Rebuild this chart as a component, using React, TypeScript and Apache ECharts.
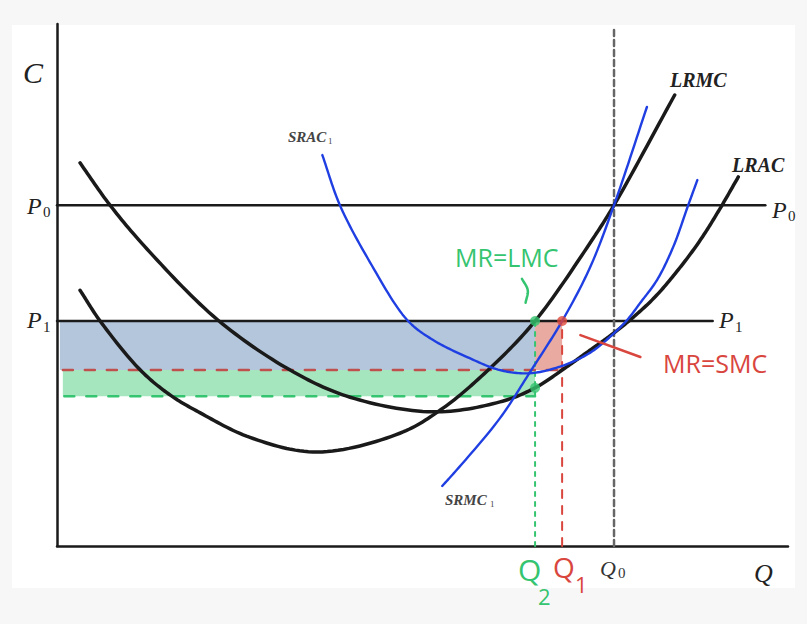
import React, { useEffect, useRef } from "react";
import * as echarts from "echarts";

// Economic diagram values (quantity 0..100, cost 0..100)
const lrac: [number, number][] = [
  [3.15, 73.4], [7.25, 65.3], [12.7, 56.3], [22.0, 43.3], [31.9, 33.7], [40.1, 28.5],
  [51.4, 25.7], [60.6, 27.6], [65.4, 30.3], [69.5, 34.1], [72.9, 37.5], [75.6, 40.2],
  [78.4, 43.3], [81.8, 47.7], [85.2, 53.3], [88.0, 58.6], [90.6, 64.4], [93.2, 70.7],
];
const lrmc: [number, number][] = [
  [3.15, 49.0], [5.9, 43.1], [11.4, 33.7], [15.5, 28.9], [19.6, 25.5], [26.4, 20.8],
  [35.6, 18.0], [46.9, 21.6], [52.8, 26.4], [59.2, 34.0], [65.4, 43.1], [72.9, 58.0],
  [76.2, 65.3], [84.5, 86.4],
];
const srac1: [number, number][] = [
  [36.3, 74.9], [38.7, 65.3], [42.8, 54.4], [47.9, 43.3], [51.4, 39.5], [56.1, 36.2],
  [60.6, 33.7], [64.7, 33.1], [69.1, 34.5], [72.9, 37.0], [75.6, 40.0], [78.0, 43.3],
  [79.8, 46.6], [82.1, 51.0], [84.3, 57.3], [86.3, 65.1], [87.6, 70.1],
];
const srmc1: [number, number][] = [
  [52.7, 11.5], [54.7, 14.6], [60.6, 24.5], [64.7, 33.3], [69.1, 43.1], [72.9, 53.3],
  [76.2, 65.3], [80.7, 84.1],
];
const P0 = 65.3;
const P1 = 43.1;
const Q0 = 76.2;
const Q1 = 69.1;
const Q2 = 65.4;
const SRAC_MIN = 33.7;
const LRAC_LEVEL = 28.7;
const Q2_DOT = 30.3;
const P0_END = 96.9;
const P1_END = 89.7;
const AXIS_TOP = 99.6;
const redPointer: [number, number][] = [[71.6, 40.4], [79.8, 36.2]];
const greenPointer: [number, number][] = [[63.6, 51.2], [64.4, 49.0], [64.1, 46.6]];

const BLACK = "#1a1a1a";
const BLUE = "#1f3fe2";
const GREEN = "#35c46f";
const RED = "#d9463e";

type Pt = number[];

// centripetal Catmull-Rom through pixel points (drawing only)
function spline(pts: Pt[], steps = 16): Pt[] {
  if (pts.length < 3) return pts;
  const out: Pt[] = [];
  const n = pts.length;
  const get = (i: number): Pt => {
    if (i < 0) return [2 * pts[0][0] - pts[1][0], 2 * pts[0][1] - pts[1][1]];
    if (i >= n) return [2 * pts[n - 1][0] - pts[n - 2][0], 2 * pts[n - 1][1] - pts[n - 2][1]];
    return pts[i];
  };
  const dist = (a: Pt, b: Pt) => Math.max(Math.pow(Math.hypot(b[0] - a[0], b[1] - a[1]), 0.5), 1e-4);
  const lerp = (a: Pt, b: Pt, ta: number, tb: number, t: number): Pt => {
    const u = (t - ta) / (tb - ta);
    return [a[0] + (b[0] - a[0]) * u, a[1] + (b[1] - a[1]) * u];
  };
  for (let i = 0; i < n - 1; i++) {
    const p0 = get(i - 1), p1 = get(i), p2 = get(i + 1), p3 = get(i + 2);
    const t0 = 0;
    const t1 = t0 + dist(p0, p1);
    const t2 = t1 + dist(p1, p2);
    const t3 = t2 + dist(p2, p3);
    for (let s = 0; s < steps; s++) {
      const t = t1 + ((t2 - t1) * s) / steps;
      const a1 = lerp(p0, p1, t0, t1, t);
      const a2 = lerp(p1, p2, t1, t2, t);
      const a3 = lerp(p2, p3, t2, t3, t);
      const b1 = lerp(a1, a2, t0, t2, t);
      const b2 = lerp(a2, a3, t1, t3, t);
      out.push(lerp(b1, b2, t1, t2, t));
    }
  }
  out.push(pts[n - 1]);
  return out;
}

function curve(data: [number, number][], color: string, width: number) {
  return {
    type: "custom",
    data,
    silent: true,
    z: 3,
    renderItem: (params: any, api: any) => {
      if (params.dataIndex !== 0) return null;
      const px = data.map((p) => api.coord(p));
      return {
        type: "polyline",
        shape: { points: spline(px) },
        style: { stroke: color, lineWidth: width, fill: null, lineCap: "round", lineJoin: "round" },
      };
    },
  };
}

function line(data: [number, number][], color: string, width: number, type: any = "solid", z = 2) {
  return {
    type: "line",
    data,
    symbol: "none",
    silent: true,
    z,
    lineStyle: { color, width, type, cap: "round" },
  };
}

function txt(text: string, x: number, y: number, font: string, fill: string) {
  return {
    type: "text",
    x,
    y,
    z: 20,
    style: {
      text,
      font,
      fill,
      align: "left",
      verticalAlign: "middle",
      textAlign: "left",
      textVerticalAlign: "middle",
    },
  };
}

export default function App() {
  const ref = useRef<HTMLDivElement>(null);
  useEffect(() => {
    const chart = echarts.init(ref.current!, null, { renderer: "svg" });
    const serif = "'Liberation Serif', 'DejaVu Serif', serif";
    const hand = "'Open Sans', 'Noto Sans', sans-serif";
    const option: any = {
      animation: false,
      backgroundColor: "transparent",
      grid: { left: 57, top: 24, width: 731, height: 522 },
      xAxis: {
        type: "value", min: 0, max: 100,
        axisLine: { show: true, lineStyle: { color: BLACK, width: 2.5 } },
        axisTick: { show: false }, axisLabel: { show: false }, splitLine: { show: false },
      },
      yAxis: {
        type: "value", min: 0, max: 100,
        axisLine: { show: true, lineStyle: { color: BLACK, width: 2.5 } },
        axisTick: { show: false }, axisLabel: { show: false }, splitLine: { show: false },
      },
      series: [
        {
          type: "line",
          data: [],
          z: 1,
          silent: true,
          markArea: {
            silent: true,
            data: [
              [{ xAxis: 0.4, yAxis: P1, itemStyle: { color: "#b4c6dc" } }, { xAxis: Q2, yAxis: SRAC_MIN }],
              [{ xAxis: 0.8, yAxis: SRAC_MIN, itemStyle: { color: "#a6e6bf" } }, { xAxis: Q2, yAxis: LRAC_LEVEL }],
              [{ xAxis: Q2, yAxis: P1, itemStyle: { color: "#e9aaa2" } }, { xAxis: Q1, yAxis: SRAC_MIN }],
            ],
          },
        },
        line([[0, P0], [P0_END, P0]], BLACK, 2.5),
        line([[0, P1], [P1_END, P1]], BLACK, 2.5),
        line([[Q0, 0], [Q0, AXIS_TOP]], "#666", 2.5, [6, 4]),
        line([[Q1, 0], [Q1, P1]], RED, 2, [8, 8]),
        line([[Q2, 0], [Q2, P1]], GREEN, 2, [4, 6]),
        line([[0.8, SRAC_MIN], [Q1, SRAC_MIN]], "#c0504d", 2.5, [10, 12]),
        line([[1.0, LRAC_LEVEL], [Q2, LRAC_LEVEL]], GREEN, 2.5, [10, 12]),
        curve(lrac, BLACK, 3.5),
        curve(lrmc, BLACK, 3.5),
        curve(srac1, BLUE, 2.4),
        curve(srmc1, BLUE, 2.4),
        line(redPointer, RED, 2.5, "solid", 4),
        curve(greenPointer, GREEN, 2.5),
        {
          type: "scatter",
          z: 5,
          symbolSize: 10,
          data: [[Q2, P1], [Q2, Q2_DOT]],
          itemStyle: { color: GREEN },
          silent: true,
        },
        {
          type: "scatter",
          z: 5,
          symbolSize: 10,
          data: [[Q1, P1]],
          itemStyle: { color: "#e0483b" },
          silent: true,
        },
      ],
      graphic: [
        txt("C", 23, 72, `italic 30px ${serif}`, "#222"),
        txt("P", 27, 206, `italic 24px ${serif}`, "#222"),
        txt("0", 43, 212, `15px ${serif}`, "#222"),
        txt("P", 27, 320, `italic 24px ${serif}`, "#222"),
        txt("1", 43, 327, `15px ${serif}`, "#222"),
        txt("P", 772, 210, `italic 24px ${serif}`, "#222"),
        txt("0", 788, 216, `15px ${serif}`, "#222"),
        txt("P", 719, 320, `italic 24px ${serif}`, "#222"),
        txt("1", 735, 327, `15px ${serif}`, "#222"),
        txt("LRMC", 670, 80, `italic bold 20px ${serif}`, "#222"),
        txt("LRAC", 732, 165, `italic bold 20px ${serif}`, "#222"),
        txt("SRAC", 288, 137, `italic bold 15px ${serif}`, "#444"),
        txt("1", 328, 141, `9px ${serif}`, "#444"),
        txt("SRMC", 445, 500, `italic bold 15px ${serif}`, "#444"),
        txt("1", 490, 504, `9px ${serif}`, "#444"),
        txt("Q", 600, 568, `italic 22px ${serif}`, "#333"),
        txt("0", 618, 573, `15px ${serif}`, "#333"),
        txt("Q", 754, 573, `italic 26px ${serif}`, "#222"),
        txt("Q", 518, 569, `30px ${hand}`, GREEN),
        txt("2", 538, 596, `22px ${hand}`, GREEN),
        txt("Q", 553, 567, `28px ${hand}`, RED),
        txt("1", 575, 584, `22px ${hand}`, RED),
        txt("MR=LMC", 455, 257, `25px ${hand}`, GREEN),
        txt("MR=SMC", 663, 363, `25px ${hand}`, RED),
      ],
    };
    chart.setOption(option);
    return () => chart.dispose();
  }, []);
  return (
    <div style={{ position: "absolute", left: 0, top: 0, width: 807, height: 624, background: "#f7f7f7" }}>
      <div style={{ position: "absolute", left: 12, top: 25, width: 783, height: 563, background: "#ffffff" }} />
      <div ref={ref} style={{ position: "absolute", left: 0, top: 0, width: 807, height: 624 }} />
    </div>
  );
}
